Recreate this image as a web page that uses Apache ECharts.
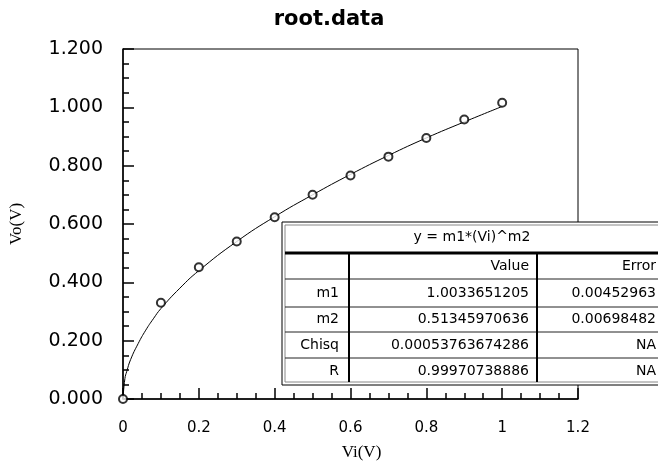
<!DOCTYPE html>
<html>
<head>
<meta charset="utf-8">
<script src="https://cdn.jsdelivr.net/npm/echarts@6/dist/echarts.min.js"></script>
<style>
html, body { margin: 0; padding: 0; background: #fff; }
#chart { width: 658px; height: 466px; }
</style>
</head>
<body>
<div id="chart"></div>
<script>
// measured points (Vi, Vo)
var viData = [0, 0.1, 0.2, 0.3, 0.4, 0.5, 0.6, 0.7, 0.8, 0.9, 1.0];
var voData = [0, 0.330, 0.452, 0.540, 0.623, 0.700, 0.766, 0.831, 0.895, 0.958, 1.016];

// fitted curve
var fitX = [0, 0.005, 0.01, 0.02, 0.04, 0.06, 0.08, 0.1, 0.15, 0.2, 0.3, 0.4, 0.5, 0.6, 0.7, 0.8, 0.9, 1.0];
var fitY = [0, 0.070, 0.095, 0.135, 0.190, 0.236, 0.275, 0.310, 0.380, 0.440, 0.540, 0.625, 0.700, 0.770, 0.835, 0.895, 0.950, 1.003];

// fit result table
var tableTitle = 'y = m1*(Vi)^m2';
var rowNames = ['', 'm1', 'm2', 'Chisq', 'R'];
var valueCol = ['Value', '1.0033651205', '0.51345970636', '0.00053763674286', '0.99970738886'];
var errorCol = ['Error', '0.00452963', '0.00698482', 'NA', 'NA'];

var chart = echarts.init(document.getElementById('chart'));

var points = viData.map(function (x, i) { return [x, voData[i]]; });
var curve = fitX.map(function (x, i) { return [x, fitY[i]]; });

// table drawn as graphic
var tbl = { left: 282, top: 222, right: 662, bottom: 385 };
var rowY = [253, 279, 307, 332, 358, 385];
var colX = [349, 537];
var txtFont = { fontSize: 14, fontFamily: 'DejaVu Sans', fill: '#000' };
var g = [];
g.push({ type: 'rect', z: 100, shape: { x: tbl.left, y: tbl.top, width: tbl.right - tbl.left, height: tbl.bottom - tbl.top },
    style: { fill: '#fff', stroke: '#000', lineWidth: 1 } });
g.push({ type: 'rect', z: 100, shape: { x: tbl.left + 3, y: tbl.top + 3, width: tbl.right - tbl.left - 6, height: tbl.bottom - tbl.top - 6 },
    style: { fill: 'none', stroke: '#888', lineWidth: 1 } });
g.push({ type: 'line', z: 101, shape: { x1: tbl.left + 3, y1: rowY[0], x2: tbl.right, y2: rowY[0] },
    style: { stroke: '#000', lineWidth: 3 } });
for (var r = 1; r < rowY.length - 1; r++) {
    g.push({ type: 'line', z: 101, shape: { x1: tbl.left + 3, y1: rowY[r], x2: tbl.right, y2: rowY[r] },
        style: { stroke: '#222', lineWidth: 1 } });
}
colX.forEach(function (cx) {
    g.push({ type: 'line', z: 101, shape: { x1: cx, y1: rowY[0], x2: cx, y2: tbl.bottom - 3 },
        style: { stroke: '#000', lineWidth: 2 } });
});
g.push({ type: 'text', z: 102, style: Object.assign({ text: tableTitle, x: (tbl.left + tbl.right) / 2, y: (tbl.top + rowY[0]) / 2,
    align: 'center', verticalAlign: 'middle' }, txtFont) });
for (var i = 0; i < rowNames.length; i++) {
    var cy = (rowY[i] + rowY[i + 1]) / 2;
    g.push({ type: 'text', z: 102, style: Object.assign({ text: rowNames[i], x: colX[0] - 10, y: cy, align: 'right', verticalAlign: 'middle' }, txtFont) });
    g.push({ type: 'text', z: 102, style: Object.assign({ text: valueCol[i], x: colX[1] - 8, y: cy, align: 'right', verticalAlign: 'middle' }, txtFont) });
    g.push({ type: 'text', z: 102, style: Object.assign({ text: errorCol[i], x: 656, y: cy, align: 'right', verticalAlign: 'middle' }, txtFont) });
}

var option = {
    backgroundColor: '#fff',
    animation: false,
    title: {
        text: 'root.data',
        left: 'center',
        top: 4,
        textStyle: { fontSize: 21, fontWeight: 'bold', fontFamily: 'DejaVu Sans', color: '#000' }
    },
    grid: {
        left: 120, right: 80, top: 49, bottom: 65,
        show: true, borderColor: '#000', borderWidth: 1, backgroundColor: 'transparent'
    },
    xAxis: {
        type: 'value',
        min: 0, max: 1.2, interval: 0.2,
        name: 'Vi(V)', nameLocation: 'middle', nameGap: 45,
        nameTextStyle: { fontSize: 17, fontFamily: 'Liberation Serif', color: '#000', padding: [0, 0, 0, 22] },
        axisLine: { lineStyle: { color: '#000', width: 1.5 } },
        axisTick: { inside: true, length: 11, lineStyle: { color: '#000', width: 1.5 } },
        minorTick: { show: true, splitNumber: 4, length: 6, lineStyle: { color: '#000', width: 1.5 } },
        splitLine: { show: false },
        axisLabel: { margin: 22, fontSize: 15, fontFamily: 'DejaVu Sans', color: '#000' }
    },
    yAxis: {
        type: 'value',
        min: 0, max: 1.2, interval: 0.2,
        name: 'Vo(V)', nameLocation: 'middle', nameGap: 98, nameRotate: 90,
        nameTextStyle: { fontSize: 17, fontFamily: 'Liberation Serif', color: '#000' },
        axisLine: { lineStyle: { color: '#000', width: 1.5 } },
        axisTick: { inside: true, length: 11, lineStyle: { color: '#000', width: 1.5 } },
        minorTick: { show: true, splitNumber: 4, length: 6, lineStyle: { color: '#000', width: 1.5 } },
        splitLine: { show: false },
        axisLabel: {
            margin: 20, fontSize: 19, fontFamily: 'DejaVu Sans', color: '#000',
            formatter: function (v) { return v.toFixed(3); }
        }
    },
    series: [
        {
            type: 'line',
            data: curve,
            smooth: true,
            showSymbol: false,
            lineStyle: { color: '#000', width: 1 },
            z: 2
        },
        {
            type: 'scatter',
            data: points,
            symbol: 'emptyCircle',
            symbolSize: 8,
            itemStyle: { color: '#000', borderWidth: 1 },
            z: 3
        }
    ],
    graphic: g
};

chart.setOption(option);
</script>
</body>
</html>
